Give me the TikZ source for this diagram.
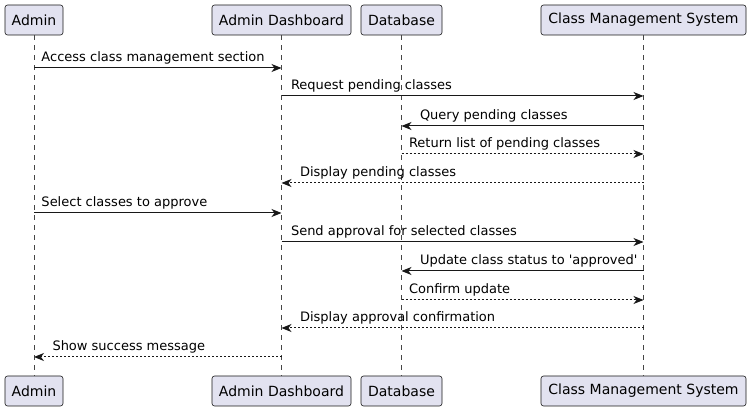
\documentclass[tikz,border=0pt]{standalone}
\usepackage{fontspec}
\setmainfont{DejaVu Sans}[Ligatures=TeXOff]
\usetikzlibrary{arrows.meta}

\definecolor{partfill}{HTML}{E2E2F0}
\definecolor{ink}{HTML}{181818}

\begin{document}
\begin{tikzpicture}[x=1pt,y=-1pt,>={Stealth[length=10pt,width=8pt,inset=3pt]},
      part/.style={draw=ink,fill=partfill,rounded corners=2.5pt,line width=0.6pt,
        minimum height=30pt,inner sep=0pt,font=\fontsize{14}{16}\selectfont},
      life/.style={draw=ink!80,line width=0.6pt,dash pattern=on 5pt off 5pt},
      call/.style={->,draw=ink,line width=1pt},
      reply/.style={call,dash pattern=on 2pt off 2pt},
      lbl/.style={anchor=base west,inner sep=0pt,yshift=6pt,font=\fontsize{13}{15}\selectfont}]

      \useasboundingbox (0,0) rectangle (750,411);

      % participants, top and bottom
      \node[part,minimum width=58pt] (admT) at (34,20) {Admin};
      \node[part,minimum width=139pt] (dashT) at (281.5,20) {Admin Dashboard};
      \node[part,minimum width=81pt] (dbT) at (401.5,20) {Database};
      \node[part,minimum width=205pt] (cmsT) at (643.5,20) {Class Management System};
      \node[part,minimum width=58pt] (admB) at (34,391) {Admin};
      \node[part,minimum width=139pt] (dashB) at (281.5,391) {Admin Dashboard};
      \node[part,minimum width=81pt] (dbB) at (401.5,391) {Database};
      \node[part,minimum width=205pt] (cmsB) at (643.5,391) {Class Management System};

      % lifelines
      \foreach \p in {adm,dash,db,cms}
        \draw[life] (\p T) -- (\p B);

      % messages
      \draw[call] (admT |- 0,68) -- node[lbl,at start,xshift=7pt] {Access class management section} (dashT |- 0,68);
      \draw[call] (dashT |- 0,96) -- node[lbl,at start,xshift=9pt] {Request pending classes} (cmsT |- 0,96);
      \draw[call] (cmsT |- 0,126) -- node[lbl,at end,xshift=18pt] {Query pending classes} (dbT |- 0,126);
      \draw[reply] (dbT |- 0,154) -- node[lbl,at start,xshift=7pt] {Return list of pending classes} (cmsT |- 0,154);
      \draw[reply] (cmsT |- 0,183) -- node[lbl,at end,xshift=18pt] {Display pending classes} (dashT |- 0,183);
      \draw[call] (admT |- 0,213) -- node[lbl,at start,xshift=7pt] {Select classes to approve} (dashT |- 0,213);
      \draw[call] (dashT |- 0,242) -- node[lbl,at start,xshift=9pt] {Send approval for selected classes} (cmsT |- 0,242);
      \draw[call] (cmsT |- 0,271) -- node[lbl,at end,xshift=18pt] {Update class status to 'approved'} (dbT |- 0,271);
      \draw[reply] (dbT |- 0,300) -- node[lbl,at start,xshift=7pt] {Confirm update} (cmsT |- 0,300);
      \draw[reply] (cmsT |- 0,328) -- node[lbl,at end,xshift=18pt] {Display approval confirmation} (dashT |- 0,328);
      \draw[reply] (dashT |- 0,357) -- node[lbl,at end,xshift=18pt] {Show success message} (admT |- 0,357);
    \end{tikzpicture}
\end{document}
